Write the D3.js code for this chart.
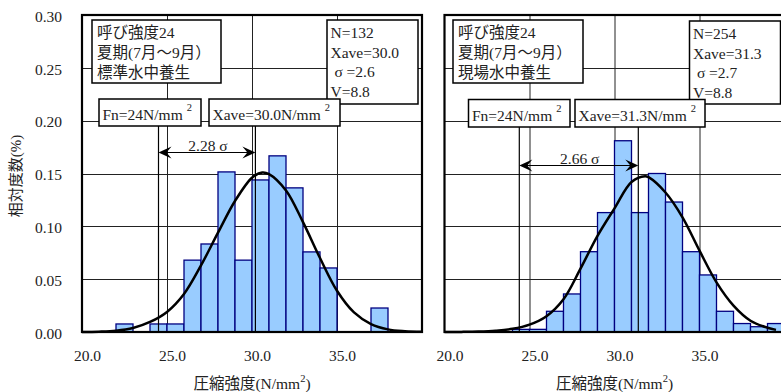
<!DOCTYPE html>
<html>
<head>
<meta charset="utf-8">
<script src="https://cdn.jsdelivr.net/npm/d3@7"></script>
<style>
body { margin: 0; background: #fff; }
text { font-family: "Liberation Serif", "DejaVu Serif", "Noto Sans CJK JP", serif; font-size: 15.5px; fill: #222; }
</style>
</head>
<body>
<svg id="chart"></svg>
<script>
var WIDTH = 781, HEIGHT = 392;
var SERIF = '"Liberation Serif", "DejaVu Serif", "Noto Sans CJK JP", serif';

// histogram bins (lower edge, N/mm2) and relative frequency
var leftBins = [22, 24, 25, 26, 27, 28, 29, 30, 31, 32, 33, 34, 37];
var leftFreq = [0.0076, 0.0076, 0.0076, 0.068, 0.0833, 0.1515, 0.068, 0.1439, 0.1667, 0.1364, 0.0758, 0.0606, 0.0227];
var rightBins = [24, 25, 26, 27, 28, 29, 30, 31, 32, 33, 34, 35, 36, 37, 38, 39];
var rightFreq = [0.0025, 0.0025, 0.0196, 0.036, 0.076, 0.113, 0.181, 0.113, 0.150, 0.123, 0.076, 0.054, 0.0196, 0.008, 0.005, 0.008];

// fitted curve
var leftCurveX = [20, 21, 22, 23, 24, 25, 26, 27, 28, 29, 30, 30.6, 31, 32, 33, 34, 35, 36, 37, 38, 39, 40];
var leftCurveY = [0.0000, 0.0003, 0.0012, 0.0038, 0.0095, 0.0190, 0.0360, 0.0630, 0.0940, 0.1240, 0.1460, 0.1510, 0.1495, 0.1340, 0.1040, 0.0700, 0.0390, 0.0185, 0.0075, 0.0025, 0.0008, 0.0002];
var rightCurveX = [20, 21, 22, 23, 24, 25, 26, 27, 28, 29, 30, 31, 31.8, 32, 33, 34, 35, 36, 37, 38, 39, 39.5];
var rightCurveY = [0.0000, 0.0001, 0.0004, 0.0012, 0.0030, 0.0070, 0.0150, 0.0310, 0.0600, 0.0910, 0.1170, 0.1420, 0.1475, 0.1465, 0.1320, 0.1085, 0.0770, 0.0470, 0.0250, 0.0107, 0.0040, 0.0020];

var xTicks = [20, 25, 30, 35];
var yTicks = [0, 0.05, 0.10, 0.15, 0.20, 0.25, 0.30];

var leftInfo = ["呼び強度24", "夏期(7月～9月）", "標準水中養生"];
var rightInfo = ["呼び強度24", "夏期(7月～9月）", "現場水中養生"];
var leftStats = ["N=132", "Xave=30.0", " σ =2.6", "V=8.8"];
var rightStats = ["N=254", "Xave=31.3", " σ =2.7", "V=8.8"];
// where the Fn and Xave lines sit on the axis
var leftMarks = [24.5, 30.2];
var rightMarks = [24.4, 31.4];
var leftMarkLabels = ["Fn=24N/mm", "Xave=30.0N/mm"];
var rightMarkLabels = ["Fn=24N/mm", "Xave=31.3N/mm"];
var leftSigma = "2.28 σ";
var rightSigma = "2.66 σ";

var svg = d3.select("#chart").attr("width", WIDTH).attr("height", HEIGHT);

var PW = 340, PH = 317, TOP = 15;

function head(tipX, y, dir) {
    return "M" + tipX + "," + y +
        "L" + (tipX + dir * 13) + "," + (y - 6) +
        "L" + (tipX + dir * 8) + "," + y +
        "L" + (tipX + dir * 13) + "," + (y + 6) + "Z";
}

function box(g, b) {
    g.append("rect")
        .attr("x", b[0]).attr("y", b[1])
        .attr("width", b[2]).attr("height", b[3])
        .attr("fill", "#fff").attr("stroke", "#000").attr("stroke-width", 1.5);
}

function drawPanel(p) {
    var g = svg.append("g").attr("transform", "translate(" + p.ox + "," + TOP + ")");
    var x = d3.scaleLinear().domain([20, 40]).range([0, PW]);
    var y = d3.scaleLinear().domain([0, 0.3]).range([PH, 0]);

    // grid
    g.selectAll(".hg").data(yTicks.slice(1, -1)).enter().append("line")
        .attr("x1", 0).attr("x2", PW)
        .attr("y1", function(d){ return Math.round(y(d)) + 0.5; })
        .attr("y2", function(d){ return Math.round(y(d)) + 0.5; })
        .attr("stroke", "#222").attr("stroke-width", 1);
    g.selectAll(".vg").data(xTicks.slice(1)).enter().append("line")
        .attr("y1", 0).attr("y2", PH)
        .attr("x1", function(d){ return Math.round(x(d)) + 0.5; })
        .attr("x2", function(d){ return Math.round(x(d)) + 0.5; })
        .attr("stroke", "#222").attr("stroke-width", 1);

    // bars
    g.selectAll(".bar").data(p.bins).enter().append("rect")
        .attr("x", function(d){ return x(d); })
        .attr("width", function(d){ return x(d + 1) - x(d); })
        .attr("y", function(d, i){ return y(p.freq[i]); })
        .attr("height", function(d, i){ return y(0) - y(p.freq[i]); })
        .attr("fill", "#99CCFF").attr("stroke", "#000080").attr("stroke-width", 1.3);

    // Fn / Xave lines
    var lineTop = p.fnBox[1] + p.fnBox[3];
    g.selectAll(".mk").data(p.marks).enter().append("line")
        .attr("x1", function(d){ return x(d); }).attr("x2", function(d){ return x(d); })
        .attr("y1", lineTop).attr("y2", PH)
        .attr("stroke", "#000").attr("stroke-width", 1.2);

    // arrow
    var a0 = x(p.marks[0]), a1 = x(p.marks[1]);
    g.append("line").attr("x1", a0 + 4).attr("x2", a1 - 4)
        .attr("y1", p.arrowY).attr("y2", p.arrowY)
        .attr("stroke", "#000").attr("stroke-width", 1.2);
    g.append("path").attr("d", head(a0, p.arrowY, 1)).attr("fill", "#000");
    g.append("path").attr("d", head(a1, p.arrowY, -1)).attr("fill", "#000");
    g.append("text").attr("x", (a0 + a1) / 2 + 1).attr("y", p.arrowY - 1.5)
        .attr("text-anchor", "middle").text(p.sigma);

    // curve
    var line = d3.line()
        .x(function(d){ return x(d[0]); })
        .y(function(d){ return y(d[1]); })
        .curve(d3.curveCatmullRom);
    g.append("path")
        .datum(p.cx.map(function(v, i){ return [v, p.cy[i]]; }))
        .attr("d", line)
        .attr("fill", "none").attr("stroke", "#000").attr("stroke-width", 2.5);

    // info box
    box(g, p.infoBox);
    p.info.forEach(function(t, i){
        g.append("text").attr("x", p.infoBox[0] + 5).attr("y", p.infoBox[1] + 18 + i * 20).text(t);
    });
    // stats box
    box(g, p.statsBox);
    p.stats.forEach(function(t, i){
        g.append("text").attr("x", p.statsBox[0] + 3.5).attr("y", p.statsBox[1] + 18 + i * 19.6)
            .style("white-space", "pre").text(t);
    });
    // Fn / Xave label boxes
    [p.fnBox, p.xaveBox].forEach(function(b, i){
        box(g, b);
        var t = g.append("text").attr("x", b[0] + 3.5).attr("y", b[1] + 21);
        t.append("tspan").text(p.markLabels[i]);
        t.append("tspan").attr("dx", 4).attr("dy", -9).style("font-size", "10.5px").text("2");
    });

    // frame
    g.append("rect").attr("x", 0).attr("y", 0).attr("width", PW).attr("height", PH)
        .attr("fill", "none").attr("stroke", "#000").attr("stroke-width", 2.2);

    // axes
    var xa = g.append("g").attr("transform", "translate(0," + PH + ")")
        .call(d3.axisBottom(x).tickValues(xTicks).tickFormat(d3.format(".1f")).tickSize(0).tickPadding(18));
    xa.attr("font-family", null).attr("font-size", null);
    xa.select(".domain").remove();
    xa.selectAll("text").attr("x", 5)
        .style("font-family", SERIF).style("font-size", "15.5px").style("fill", "#222");

    if (p.yLabels) {
        var ya = g.append("g")
            .call(d3.axisLeft(y).tickValues(yTicks).tickFormat(d3.format(".2f")).tickSize(0).tickPadding(20));
        ya.attr("font-family", null).attr("font-size", null);
        ya.select(".domain").remove();
        ya.selectAll("text").attr("dy", "0.4em")
            .style("font-family", SERIF).style("font-size", "15.5px").style("fill", "#222");
        svg.append("text")
            .attr("transform", "translate(21," + 176 + ") rotate(-90)")
            .attr("text-anchor", "middle").style("font-size", "15px").text("相対度数(%)");
    }

    var xt = svg.append("text").attr("x", p.ox + PW / 2).attr("y", 389).attr("text-anchor", "middle");
    xt.append("tspan").text("圧縮強度(N/mm");
    xt.append("tspan").attr("dy", -7).style("font-size", "10.5px").text("2");
    xt.append("tspan").attr("dy", 7).text(")");
}

drawPanel({
    ox: 82, bins: leftBins, freq: leftFreq, cx: leftCurveX, cy: leftCurveY,
    info: leftInfo, stats: leftStats, marks: leftMarks, markLabels: leftMarkLabels, sigma: leftSigma,
    infoBox: [10, 5, 129, 63], statsBox: [245, 5, 91, 84],
    fnBox: [17, 84, 102, 27], xaveBox: [127, 84, 131, 27],
    arrowY: 137.5, yLabels: true
});
drawPanel({
    ox: 444.5, bins: rightBins, freq: rightFreq, cx: rightCurveX, cy: rightCurveY,
    info: rightInfo, stats: rightStats, marks: rightMarks, markLabels: rightMarkLabels, sigma: rightSigma,
    infoBox: [8.5, 5, 130, 63], statsBox: [245, 6, 91, 83],
    fnBox: [24, 84.5, 101.5, 27.5], xaveBox: [130.5, 84.5, 130, 27.5],
    arrowY: 150.5, yLabels: false
});
</script>
</body>
</html>
